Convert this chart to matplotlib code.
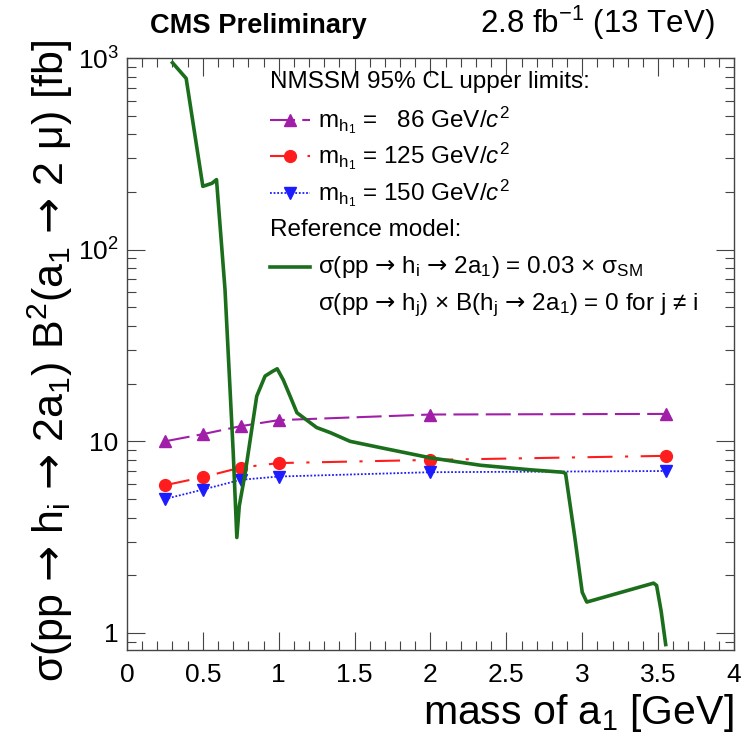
import matplotlib
matplotlib.use("Agg")
import matplotlib.pyplot as plt
from matplotlib.ticker import FixedLocator, MultipleLocator, NullFormatter

plt.rcParams["font.family"] = ["Liberation Sans", "DejaVu Sans"]
plt.rcParams["mathtext.fontset"] = "custom"
plt.rcParams["mathtext.rm"] = "Liberation Sans"
plt.rcParams["mathtext.it"] = "Liberation Sans:italic"
plt.rcParams["mathtext.bf"] = "Liberation Sans:bold"
plt.rcParams["mathtext.sf"] = "DejaVu Sans"  # wider arrow glyph

# NMSSM 95% CL upper limits, one series per h1 mass
mass_points = [0.25, 0.5, 0.75, 1.0, 2.0, 3.55]
limit_86 = [10.0, 10.9, 12.0, 12.9, 13.8, 13.9]
limit_125 = [5.9, 6.5, 7.3, 7.7, 8.0, 8.4]
limit_150 = [5.0, 5.6, 6.3, 6.55, 6.9, 7.0]

# reference model prediction
model_mass = [0.30, 0.39, 0.50, 0.56, 0.59, 0.646, 0.70, 0.724, 0.74, 0.78,
              0.855, 0.91, 0.96, 0.99, 1.03, 1.075, 1.12, 1.25, 1.34, 1.47,
              1.67, 2.0, 2.33, 2.66, 2.87, 2.89, 2.95, 3.0, 3.03, 3.47, 3.49,
              3.52, 3.55]
model_xsec = [945, 783, 214, 222, 232, 62, 8.8, 3.15, 4.6, 6.9,
              17.2, 21.9, 23.2, 23.9, 20.9, 17.2, 14.1, 11.8, 11.1, 10.0,
              9.27, 8.2, 7.5, 7.1, 6.9, 6.8, 3.2, 1.63, 1.45, 1.82, 1.77,
              1.3, 0.87]

x_ticks = [0, 0.5, 1, 1.5, 2, 2.5, 3, 3.5, 4]
x_tick_labels = ["0", "0.5", "1", "1.5", "2", "2.5", "3", "3.5", "4"]
y_ticks = [1, 10, 100, 1000]
y_tick_labels = ["1", "10", r"10$^{\mathregular{2}}$", r"10$^{\mathregular{3}}$"]

PURPLE = "#a01ea8"
RED = "#ff1c1c"
BLUE = "#1c1cff"
GREEN = "#1b6e1b"

ARR = r"$\mathsf{→}$"

fig = plt.figure(figsize=(7.46, 7.41), dpi=100)
ax = fig.add_axes([0.1702, 0.1228, 0.8137, 0.7989])

style_86 = dict(color=PURPLE, lw=1.5, dashes=(12, 3.5), marker="^", ms=8)
style_125 = dict(color=RED, lw=1.5, dashes=(12, 6, 1.5, 6), marker="o", ms=8.5)
style_150 = dict(color=BLUE, lw=1.3, dashes=(1, 1), marker="v", ms=8)
style_model = dict(color=GREEN, lw=2.6, solid_joinstyle="round")

ax.plot(mass_points, limit_86, **style_86)
ax.plot(mass_points, limit_125, **style_125)
ax.plot(mass_points, limit_150, **style_150)
ax.plot(model_mass, model_xsec, **style_model)

ax.set_yscale("log")
ax.set_xlim(0, 4)
ax.set_ylim(0.815, 1000)

ax.xaxis.set_major_locator(FixedLocator(x_ticks))
ax.set_xticklabels(x_tick_labels)
ax.xaxis.set_minor_locator(MultipleLocator(0.1))
ax.yaxis.set_major_locator(FixedLocator(y_ticks))
ax.set_yticklabels(y_tick_labels)
ax.yaxis.set_minor_locator(FixedLocator([0.9] + [m * d for d in (1, 10, 100) for m in range(2, 10)]))
ax.yaxis.set_minor_formatter(NullFormatter())

ax.tick_params(which="both", direction="in", top=True, right=True,
               color="#444444", width=0.8, labelsize=19)
ax.tick_params(which="major", length=13)
ax.tick_params(which="minor", length=6.5)
ax.tick_params(axis="x", pad=9)
ax.tick_params(axis="y", pad=6)
for sp in ax.spines.values():
    sp.set_color("#444444")
    sp.set_linewidth(1.0)

ax.set_xlabel(r"mass of a$_{\mathregular{1}}$ [GeV]", fontsize=29.5, ha="right", x=1.0,
              labelpad=4)
ax.set_ylabel("σ(pp " + ARR + r" h$_{\mathregular{i}}$ " + ARR + r" 2a$_{\mathregular{1}}$) "
              r"B$^{\mathregular{2}}$(a$_{\mathregular{1}}$ " + ARR + " 2 μ) [fb]",
              fontsize=31, ha="right", y=1.03, labelpad=2)

fig.text(0.201, 0.955, "CMS Preliminary", fontsize=19.6, fontweight="bold", ha="left")
fig.text(0.958, 0.955, r"2.8 fb$^{\mathregular{-1}}$ (13 TeV)", fontsize=22.5, ha="right")

# hand-built legend in axes coordinates
lx0, lx1, lmk, ltx = 0.2356, 0.3015, 0.2685, 0.3147
rows = [0.96, 0.895, 0.834, 0.772, 0.709, 0.647, 0.583]
fs = 17.5
ax.text(lx0, rows[0], "NMSSM 95% CL upper limits:", transform=ax.transAxes,
        fontsize=fs, va="center")
for y, st, label in [
    (rows[1], style_86, r"m$_{\mathregular{h_1}}$ =   86 GeV/$c^{\mathregular{2}}$"),
    (rows[2], style_125, r"m$_{\mathregular{h_1}}$ = 125 GeV/$c^{\mathregular{2}}$"),
    (rows[3], style_150, r"m$_{\mathregular{h_1}}$ = 150 GeV/$c^{\mathregular{2}}$"),
]:
    line_st = {k: v for k, v in st.items() if k not in ("marker", "ms")}
    ax.plot([lx0, lx1], [y, y], transform=ax.transAxes, clip_on=False, **line_st)
    ax.plot([lmk], [y], transform=ax.transAxes, clip_on=False, ls="none",
            marker=st["marker"], ms=st["ms"], color=st["color"])
    ax.text(ltx, y, label, transform=ax.transAxes, fontsize=fs, va="center")

ax.text(lx0, rows[4], "Reference model:", transform=ax.transAxes, fontsize=fs, va="center")
ax.plot([lx0, lx1], [rows[5], rows[5]], transform=ax.transAxes, clip_on=False, **style_model)
ax.text(ltx, rows[5],
        "σ(pp " + ARR + r" h$_{\mathregular{i}}$ " + ARR + r" 2a$_{\mathregular{1}}$) = 0.03 × σ$_{\mathregular{SM}}$",
        transform=ax.transAxes, fontsize=fs, va="center")
ax.text(ltx, rows[6],
        "σ(pp " + ARR + r" h$_{\mathregular{j}}$) × B(h$_{\mathregular{j}}$ " + ARR + r" 2a$_{\mathregular{1}}$) = 0 for j ≠ i",
        transform=ax.transAxes, fontsize=fs, va="center")

fig.savefig("out.png", dpi=100)
